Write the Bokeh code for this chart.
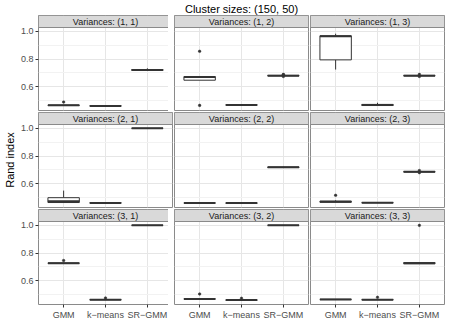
from bokeh.plotting import figure
from bokeh.layouts import gridplot
from bokeh.models import Range1d, FixedTicker, PrintfTickFormatter, ColumnDataSource
from bokeh.core.properties import value
from bokeh.embed import file_html
from bokeh.resources import INLINE

# ---------------- data ----------------
title_text = "Cluster sizes: (150, 50)"
y_label = "Rand index"
methods = ["GMM", "k\u2212means", "SR\u2212GMM"]
panel_titles = ["Variances: (1, 1)", "Variances: (1, 2)", "Variances: (1, 3)",
                "Variances: (2, 1)", "Variances: (2, 2)", "Variances: (2, 3)",
                "Variances: (3, 1)", "Variances: (3, 2)", "Variances: (3, 3)"]
y_ticks = [0.6, 0.8, 1.0]
y_minor = [0.5, 0.7, 0.9]

# per panel: values for [GMM, k-means, SR-GMM]
lower = [
    [0.464, 0.459, 0.716],
    [0.647, 0.466, 0.678],
    [0.724, 0.463, 0.678],
    [0.463, 0.459, 1.000],
    [0.460, 0.459, 0.716],
    [0.465, 0.462, 0.683],
    [0.725, 0.461, 1.000],
    [0.466, 0.459, 1.000],
    [0.464, 0.462, 0.721],
]
q1 = [
    [0.464, 0.460, 0.718],
    [0.647, 0.467, 0.679],
    [0.794, 0.464, 0.679],
    [0.464, 0.460, 1.000],
    [0.460, 0.459, 0.717],
    [0.466, 0.462, 0.684],
    [0.726, 0.462, 1.000],
    [0.467, 0.459, 1.000],
    [0.464, 0.462, 0.723],
]
median = [
    [0.466, 0.461, 0.721],
    [0.671, 0.468, 0.680],
    [0.965, 0.467, 0.680],
    [0.473, 0.461, 1.000],
    [0.461, 0.460, 0.719],
    [0.470, 0.463, 0.686],
    [0.727, 0.463, 1.000],
    [0.468, 0.460, 1.000],
    [0.465, 0.463, 0.727],
]
q3 = [
    [0.467, 0.462, 0.724],
    [0.673, 0.469, 0.682],
    [0.968, 0.472, 0.682],
    [0.499, 0.462, 1.000],
    [0.461, 0.461, 0.721],
    [0.474, 0.464, 0.688],
    [0.728, 0.464, 1.000],
    [0.469, 0.461, 1.000],
    [0.466, 0.464, 0.731],
]
upper = [
    [0.467, 0.462, 0.733],
    [0.673, 0.470, 0.683],
    [0.983, 0.484, 0.683],
    [0.550, 0.462, 1.000],
    [0.461, 0.462, 0.722],
    [0.480, 0.464, 0.689],
    [0.729, 0.465, 1.000],
    [0.470, 0.462, 1.000],
    [0.466, 0.465, 0.733],
]
outliers = [
    [[0.489], [], []],
    [[0.856, 0.465], [], [0.689, 0.674, 0.686]],
    [[], [], [0.689, 0.674]],
    [[], [], []],
    [[], [], []],
    [[0.516], [], [0.695, 0.680]],
    [[0.746], [0.475], []],
    [[0.504], [0.473], []],
    [[], [0.480], [1.000]],
]

# ---------------- style / layout ----------------
FONT = "Liberation Sans"
FRAME_W = 134
PANEL_H = 83
STRIP_H = 12
Y_LO, Y_HI = 0.428, 1.028
X_LO, X_HI = 0.4, 3.6
BOX_W = 0.75
DARK = "#333333"
BORDER = "#8a8a8a"

px_per_unit = PANEL_H / (Y_HI - Y_LO)
strip_units = STRIP_H / px_per_unit

figs = []
for k in range(9):
    row, col = divmod(k, 3)
    p = figure(
        frame_width=FRAME_W, frame_height=PANEL_H + STRIP_H,
        x_range=Range1d(X_LO, X_HI),
        y_range=Range1d(Y_LO, Y_HI + strip_units),
        x_axis_location="below" if row == 2 else None,
        y_axis_location="left" if col == 0 else None,
        toolbar_location=None, output_backend="svg",
        min_border_left=33 if col == 0 else 1,
        min_border_right=1,
        min_border_top=15 if row == 0 else 1,
        min_border_bottom=15 if row == 2 else 1,
    )
    p.background_fill_color = "white"
    p.border_fill_color = "white"
    p.outline_line_color = BORDER
    p.outline_line_width = 1

    # grids
    p.xgrid.ticker = FixedTicker(ticks=list(range(1, len(methods) + 1)))
    p.xgrid.grid_line_color = "#e6e6e6"
    p.ygrid.ticker = FixedTicker(ticks=y_ticks, minor_ticks=y_minor)
    p.ygrid.grid_line_color = "#e6e6e6"
    p.ygrid.minor_grid_line_color = "#f2f2f2"

    # axes
    if col == 0:
        ax = p.yaxis[0]
        ax.ticker = FixedTicker(ticks=y_ticks)
        ax.formatter = PrintfTickFormatter(format="%.1f")
        ax.axis_line_color = None
        ax.major_tick_line_color = DARK
        ax.major_tick_out = 3
        ax.major_tick_in = 0
        ax.minor_tick_line_color = None
        ax.major_label_text_font = FONT
        ax.major_label_text_font_size = "9px"
        ax.major_label_text_color = "#4d4d4d"
        ax.major_label_standoff = 2
        if row == 1:
            ax.axis_label = y_label
            ax.axis_label_text_font = FONT
            ax.axis_label_text_font_size = "11px"
            ax.axis_label_text_font_style = "normal"
            ax.axis_label_text_color = "#000000"
            ax.axis_label_standoff = 2
    if row == 2:
        ax = p.xaxis[0]
        ax.ticker = FixedTicker(ticks=list(range(1, len(methods) + 1)))
        ax.major_label_overrides = {i + 1: m for i, m in enumerate(methods)}
        ax.axis_line_color = None
        ax.major_tick_line_color = DARK
        ax.major_tick_out = 3
        ax.major_tick_in = 0
        ax.minor_tick_line_color = None
        ax.major_label_text_font = FONT
        ax.major_label_text_font_size = "9px"
        ax.major_label_text_color = "#4d4d4d"
        ax.major_label_standoff = 2

    if row == 0 and col == 1:
        p.title.text = title_text
        p.title.align = "center"
        p.title.text_font = FONT
        p.title.text_font_size = "11px"
        p.title.text_font_style = "normal"
        p.title.text_color = "#000000"
        p.title.standoff = 1
        p.title.offset = 0

    xs = [i + 1 for i in range(len(methods))]
    src = ColumnDataSource(dict(
        x=xs, lo=lower[k], q1=q1[k], med=median[k], q3=q3[k], hi=upper[k],
        xl=[x - BOX_W / 2 for x in xs], xr=[x + BOX_W / 2 for x in xs],
    ))
    p.segment(x0="x", y0="q3", x1="x", y1="hi", source=src, line_color=DARK, line_width=1)
    p.segment(x0="x", y0="q1", x1="x", y1="lo", source=src, line_color=DARK, line_width=1)
    p.vbar(x="x", width=BOX_W, bottom="q1", top="q3", source=src,
           fill_color="white", line_color=DARK, line_width=1)
    p.segment(x0="xl", y0="med", x1="xr", y1="med", source=src,
              line_color=DARK, line_width=2)

    ox, oy = [], []
    for i, vals in enumerate(outliers[k]):
        for v in vals:
            ox.append(i + 1)
            oy.append(v)
    if ox:
        p.scatter(ox, oy, size=2.6, fill_color=DARK, line_color=DARK, line_width=0.5)

    # facet strip
    p.quad(left=[X_LO], right=[X_HI], bottom=[Y_HI], top=[Y_HI + strip_units],
           fill_color="#d9d9d9", line_color=BORDER, line_width=1)
    p.text(x=[(X_LO + X_HI) / 2], y=[Y_HI + strip_units / 2], text=[panel_titles[k]],
           text_align="center", text_baseline="middle",
           text_font=value(FONT), text_font_size=value("9px"), text_color="#1a1a1a")
    figs.append(p)

grid = gridplot(figs, ncols=3, toolbar_location=None)
open("out.html", "w").write(file_html(grid, INLINE))
